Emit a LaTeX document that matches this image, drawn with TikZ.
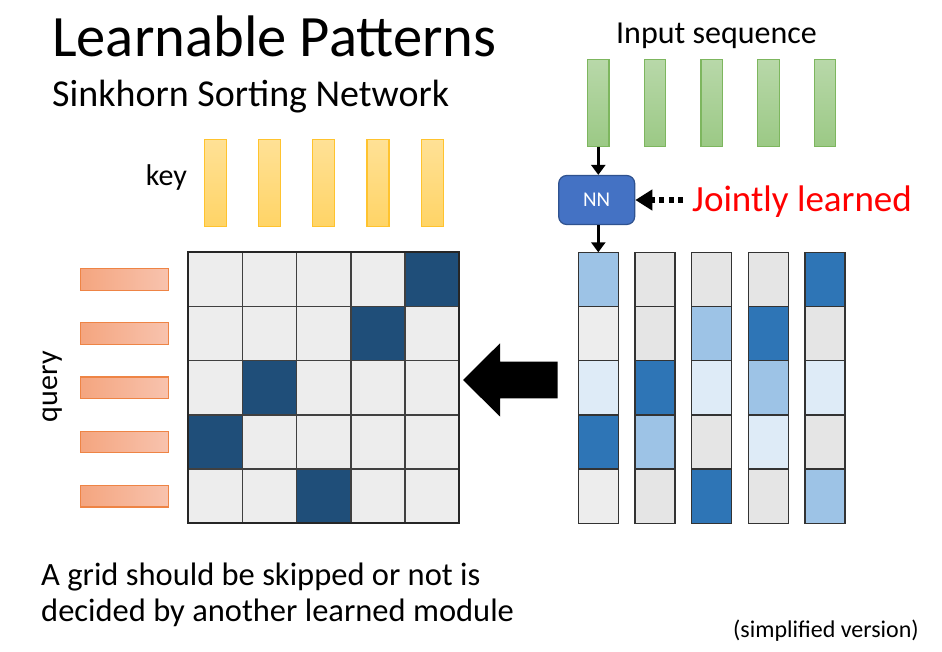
\documentclass[tikz,border=0pt]{standalone}
\usepackage{fontspec}
\setmainfont{Carlito}
\usetikzlibrary{arrows.meta,positioning}
\definecolor{keytop}{HTML}{FFE196}
\definecolor{keybot}{HTML}{FFD466}
\definecolor{keyline}{HTML}{FFC32E}
\definecolor{intop}{HTML}{B8D8A9}
\definecolor{inbot}{HTML}{9BC985}
\definecolor{inline}{HTML}{7DB65E}
\definecolor{qleft}{HTML}{F4A57F}
\definecolor{qright}{HTML}{F8C3AE}
\definecolor{qline}{HTML}{EE8445}
\definecolor{cellA}{HTML}{EDEDED}
\definecolor{cellB}{HTML}{E5E5E5}
\definecolor{cellDark}{HTML}{1F4E79}
\definecolor{bluePale}{HTML}{DEEBF7}
\definecolor{blueLight}{HTML}{9DC3E6}
\definecolor{blueMid}{HTML}{2E75B6}
\definecolor{nnfill}{HTML}{4472C4}
\definecolor{nnline}{HTML}{2F528F}
\tikzset{every node/.append style={inner sep=0pt}}
\tikzset{
  keybar/.style={draw=keyline, line width=1.2pt, top color=keytop,
    bottom color=keybot, minimum width=22pt, minimum height=87.5pt},
  inbar/.style={draw=inline, line width=1.2pt, top color=intop,
    bottom color=inbot, minimum width=21.5pt, minimum height=87pt},
  qbar/.style={draw=qline, line width=1.2pt, left color=qleft,
    right color=qright, minimum width=88pt, minimum height=21.5pt},
  flow/.style={line width=3pt, -{Triangle[length=10pt,width=14pt]}}
}

\begin{document}
\begin{tikzpicture}[x=1pt,y=-1pt]
  \pgfmathsetmacro{\gx}{188.3}   % grid left
  \pgfmathsetmacro{\gy}{252.3}   % grid top
  \pgfmathsetmacro{\cs}{54.2}    % cell size
  \pgfmathsetmacro{\cx}{578.3}   % first column left
  \pgfmathsetmacro{\cw}{40}      % column width
  \pgfmathsetmacro{\cd}{56.7}    % column distance

  \fill[white] (0,0) rectangle (942,652);
  \useasboundingbox (0,0) rectangle (942,652);

  % titles
  \node[anchor=base west, font=\fontsize{58.6}{64}\selectfont] (title)
    at (52,56.5) {Learnable Patterns};
  \node[anchor=base west, font=\fontsize{38}{44}\selectfont] (subtitle)
    at (52,106.5) {Sinkhorn Sorting Network};

  % key and query
  \foreach \i in {1,...,5} {
    \node[keybar] (k\i) at ({\gx+(\i-.5)*\cs},183) {};
    \node[qbar] (q\i) at (124.7,{\gy+(\i-.5)*\cs}) {};
  }
  \node[anchor=base east, font=\fontsize{30}{36}\selectfont] (key)
    at (187,186) {key};
  \node[anchor=base, rotate=90, font=\fontsize{30}{36}\selectfont] (query)
    at (57,386.7) {query};

  % attention grid
  \foreach \r/\d in {1/5,2/4,3/2,4/1,5/3} {
    \foreach \c in {1,...,5} {
      \ifnum\c=\d
        \def\cellcol{cellDark}
      \else
        \def\cellcol{cellA}
      \fi
      \draw[fill=\cellcol, draw=black!75, line width=1.3pt]
        ({\gx+(\c-1)*\cs},{\gy+(\r-1)*\cs}) rectangle ++(\cs,\cs);
    }
  }
  \draw[black!85, line width=1.8pt] (\gx,\gy) rectangle ++({5*\cs},{5*\cs});

  % input sequence
  \node[anchor=base, font=\fontsize{32}{38}\selectfont] (input)
    at (716.5,43.5) {Input sequence};
  \foreach \i in {1,...,5} {
    \node[inbar] (g\i) at ({\cx+\cw/2+(\i-1)*\cd},103.3) {};
  }

  % sorted columns
  \foreach \i/\cl in {1/{blueLight,cellA,bluePale,blueMid,cellA},
                      2/{cellB,cellB,blueMid,blueLight,cellB},
                      3/{cellB,blueLight,bluePale,cellB,blueMid},
                      4/{cellB,blueMid,blueLight,bluePale,cellB},
                      5/{blueMid,cellB,bluePale,cellB,blueLight}} {
    \coordinate (c\i) at ({\cx+\cw/2+(\i-1)*\cd},\gy);
    \foreach \f [count=\j] in \cl {
      \draw[fill=\f, draw=black!80, line width=1.3pt]
        ({\cx+(\i-1)*\cd},{\gy+(\j-1)*\cs}) rectangle ++(\cw,\cs);
    }
  }

  % network
  \node[draw=nnline, fill=nnfill, line width=1.2pt, rounded corners=8pt,
    minimum width=76pt, minimum height=49pt, text=white,
    font=\fontsize{21}{25}\selectfont] (nn) at (596.7,200) {NN};
  \draw[flow] (g1.south) -- (g1.south |- nn.north);
  \draw[flow] (c1 |- nn.south) -- (c1);

  \node[anchor=base west, text=red, font=\fontsize{37}{43}\selectfont] (joint)
    at (692,212) {Jointly learned};
  \draw[line width=5.5pt, dash pattern=on 5pt off 4.5pt, shorten <=9pt,
    -{Triangle[length=17pt,width=20pt]}] (joint.west |- nn.east) -- (nn.east);

  % big arrow
  \fill[black] (463,380) -- (500,343.3) -- (500,361.7) -- (557.7,361.7)
    -- (557.7,398.3) -- (500,398.3) -- (500,416.5) -- cycle;

  % notes
  \node[anchor=base west, font=\fontsize{32.5}{37}\selectfont] (note1)
    at (41,585) {A grid should be skipped or not is};
  \node[anchor=base west, font=\fontsize{32.5}{37}\selectfont] (note2)
    at (41,621.7) {decided by another learned module};
  \node[anchor=base west, font=\fontsize{24}{28}\selectfont] (simple)
    at (733,637) {(simplified version)};

\end{tikzpicture}
\end{document}
